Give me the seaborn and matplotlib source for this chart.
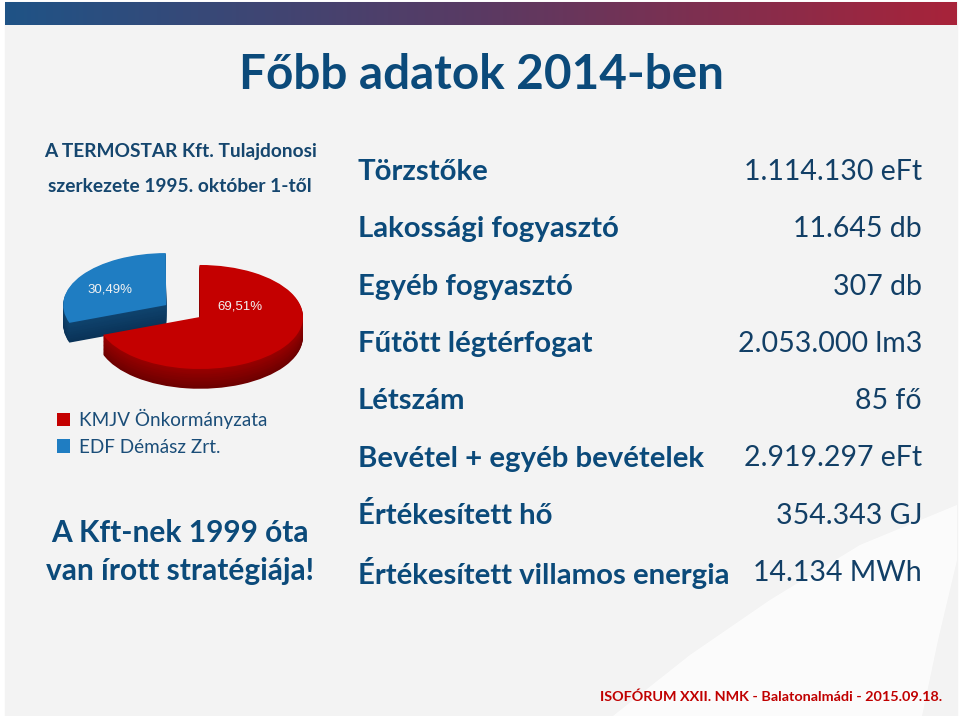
import numpy as np
import matplotlib
matplotlib.use("Agg")
import matplotlib.pyplot as plt
import seaborn as sns
from matplotlib.colors import LinearSegmentedColormap
from matplotlib.patches import Rectangle, Polygon

# --- data ---
owners = ["KMJV Önkormányzata", "EDF Démász Zrt."]
shares = [69.51, 30.49]
owner_colors = ["#c40000", "#1f7dc2"]
side_dark = ["#6e0000", "#0a3358"]
side_light = ["#9a0000", "#0f446f"]

stat_labels = [
    "Törzstőke",
    "Lakossági fogyasztó",
    "Egyéb fogyasztó",
    "Fűtött légtérfogat",
    "Létszám",
    "Bevétel + egyéb bevételek",
    "Értékesített hő",
    "Értékesített villamos energia",
]
stat_values = [
    "1.114.130 eFt",
    "11.645 db",
    "307 db",
    "2.053.000 lm3",
    "85 fő",
    "2.919.297 eFt",
    "354.343 GJ",
    "14.134 MWh",
]

title = "Főbb adatok 2014-ben"
pie_heading = ["A TERMOSTAR Kft. Tulajdonosi", "szerkezete 1995. október 1-től"]
note = ["A Kft-nek 1999 óta", "van írott stratégiája!"]
footer = "ISOFÓRUM XXII. NMK - Balatonalmádi - 2015.09.18."

navy = "#0b4a7a"

sns.set_theme(style="white")
plt.rcParams["font.family"] = ["Lato", "DejaVu Sans"]

fig = plt.figure(figsize=(9.6, 7.16), dpi=100)
fig.patch.set_facecolor("white")

# slide background in pixel coordinates
bg = fig.add_axes([0, 0, 1, 1])
bg.axis("off")
bg.add_patch(Rectangle((5, 2), 952, 716, color="#f3f3f3", zorder=0))
band = LinearSegmentedColormap.from_list("band", ["#1f5386", "#5a3a63", "#a8233a"])
bg.imshow(np.linspace(0, 1, 256)[None, :], extent=(5, 957, 25, 2),
          cmap=band, aspect="auto", zorder=1)
swoosh = [(613, 716), (690, 655), (770, 600), (860, 545), (957, 505),
          (957, 560), (938, 640), (922, 716)]
bg.add_patch(Polygon(swoosh, closed=True, color="white", alpha=0.75, lw=0, zorder=1))
bg.set_xlim(0, 960)
bg.set_ylim(716, 0)

bg.text(481, 75, title, ha="center", va="center", fontsize=34.3,
        fontweight="bold", color=navy)
for i, line in enumerate(pie_heading):
    bg.text(180, 152 + i * 34, line, ha="center", va="center", fontsize=13.8,
            fontweight="bold", color="#15466e")
for i, line in enumerate(note):
    bg.text(180, 533 + i * 38, line, ha="center", va="center", fontsize=21.5,
            fontweight="bold", color=navy)

for i, (lab, val) in enumerate(zip(stat_labels, stat_values)):
    y = 172 + i * 57.3
    bg.text(358, y, lab, ha="left", va="center", fontsize=21.2,
            fontweight="bold", color=navy)
    bg.text(922, y, val, ha="right", va="center", fontsize=20.5, color="#123f66")

bg.text(942, 697, footer, ha="right", va="center", fontsize=10.4,
        fontweight="bold", color="#c00000")

# --- pseudo 3D pie: stacked pies, squashed vertically ---
pax = fig.add_axes([40 / 960, 1 - 400 / 716, 290 / 960, 160 / 716])
depth = 0.38
n_layers = 26
top_wedges = None
for k, d in enumerate(np.linspace(depth, 0.0, n_layers)):
    t = k / (n_layers - 1)
    if k == n_layers - 1:
        cols = owner_colors
    else:
        cols = [sns.blend_palette([dk, lt], 11)[int(t * 10)]
                for dk, lt in zip(side_dark, side_light)]
    wedges, _ = pax.pie(shares, colors=cols, startangle=200, counterclock=True,
                        explode=[0, 0.4], center=(0, -d), radius=1,
                        wedgeprops=dict(linewidth=0))
    top_wedges = wedges

pax.set_aspect("auto")
pax.set_xlim(-1.553, 1.262)
pax.set_ylim(-1.596, 1.48)
pax.axis("off")

label_pos = [(0.39, 0.21), (-0.87, 0.52)]
for v, (lx, ly) in zip(shares, label_pos):
    pax.text(lx, ly, f"{v:.2f}%".replace(".", ","), ha="center", va="center",
             fontsize=9.5, color="#f2f2f2", family=["Liberation Sans", "DejaVu Sans"])

fig.legend(top_wedges, owners, loc="upper left",
           bbox_to_anchor=(40 / 960, 1 - 392 / 716), frameon=False,
           fontsize=13.6, handlelength=0.7, handleheight=0.7,
           handletextpad=0.45, labelspacing=0.5, labelcolor="#1a4d78")

fig.savefig("out.png", dpi=100)
